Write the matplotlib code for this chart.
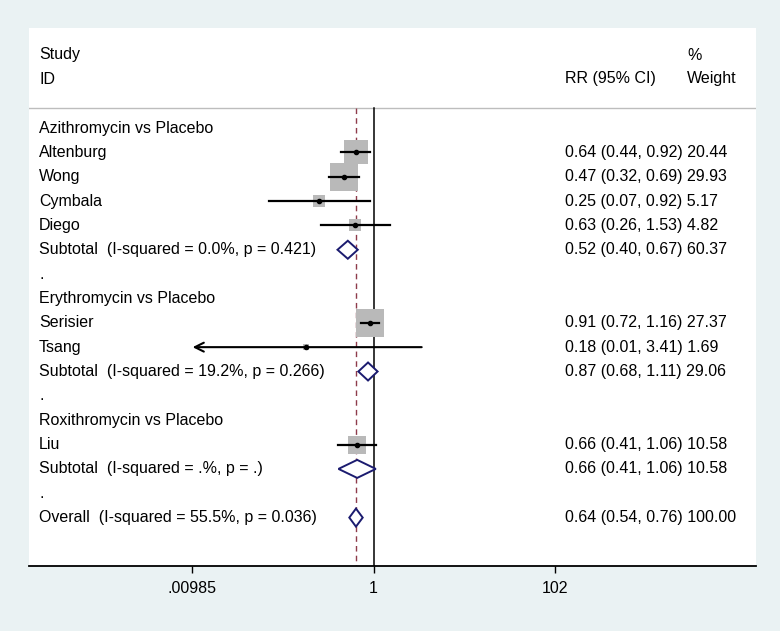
import matplotlib.pyplot as plt
from matplotlib.patches import Polygon
from matplotlib.transforms import blended_transform_factory

plt.rcParams['font.family'] = ['Liberation Sans', 'DejaVu Sans']

# wiersze tabeli (od góry), typ: group / study / subtotal / blank / overall
labels = [
    "Azithromycin vs Placebo",
    "Altenburg", "Wong", "Cymbala", "Diego",
    "Subtotal  (I-squared = 0.0%, p = 0.421)",
    ".",
    "Erythromycin vs Placebo",
    "Serisier", "Tsang",
    "Subtotal  (I-squared = 19.2%, p = 0.266)",
    ".",
    "Roxithromycin vs Placebo",
    "Liu",
    "Subtotal  (I-squared = .%, p = .)",
    ".",
    "Overall  (I-squared = 55.5%, p = 0.036)",
]
kinds = ["group", "study", "study", "study", "study", "subtotal", "blank",
         "group", "study", "study", "subtotal", "blank",
         "group", "study", "subtotal", "blank", "overall"]
rr = [None, 0.64, 0.47, 0.25, 0.63, 0.52, None,
      None, 0.91, 0.18, 0.87, None,
      None, 0.66, 0.66, None, 0.64]
lo = [None, 0.44, 0.32, 0.07, 0.26, 0.40, None,
      None, 0.72, 0.01, 0.68, None,
      None, 0.41, 0.41, None, 0.54]
hi = [None, 0.92, 0.69, 0.92, 1.53, 0.67, None,
      None, 1.16, 3.41, 1.11, None,
      None, 1.06, 1.06, None, 0.76]
weight = [None, 20.44, 29.93, 5.17, 4.82, 60.37, None,
          None, 27.37, 1.69, 29.06, None,
          None, 10.58, 10.58, None, 100.00]

xticks = [0.00985, 1, 102]
xtick_labels = [".00985", "1", "102"]

BG = "#eaf2f3"
FS = 11.5

fig = plt.figure(figsize=(7.8, 6.31), dpi=100, facecolor=BG)
ax = fig.add_axes([29 / 780, (631 - 565.5) / 631, 727 / 780, (565.5 - 28) / 631])
ax.set_facecolor("white")
ax.set_xscale("log")

ppd = 90.45  # piksele na dekadę
x1 = 373.5
ax.set_xlim(10 ** ((29 - x1) / ppd), 10 ** ((756 - x1) / ppd))
step = 24.35
ax.set_ylim((565.5 - 128) / step, (28 - 128) / step)

trans = blended_transform_factory(ax.transAxes, ax.transData)
y_sep = (108 - 128) / step

# nagłówek
ax.text(0.0138, (55 - 128) / step, "Study", transform=trans, fontsize=FS, va="center")
ax.text(0.0138, (79 - 128) / step, "ID", transform=trans, fontsize=FS, va="center")
ax.text(0.737, (79 - 128) / step, "RR (95% CI)", transform=trans, fontsize=FS, va="center")
ax.text(0.905, (55 - 128) / step, "%", transform=trans, fontsize=FS, va="center")
ax.text(0.905, (79 - 128) / step, "Weight", transform=trans, fontsize=FS, va="center")
ax.plot([0, 1], [y_sep, y_sep], transform=trans, color="#bdbdbd", lw=1.0)

overall = rr[-1]
ymax = (565.5 - 128) / step
ax.plot([1, 1], [y_sep, ymax], color="black", lw=1.1, zorder=2)
ax.plot([overall, overall], [y_sep, ymax], color="#8e3b4b", lw=1.0,
        dashes=(4, 3), zorder=2)

for i, (lab, k) in enumerate(zip(labels, kinds)):
    ax.text(0.0138, i, lab, transform=trans, fontsize=FS, va="center")
    if k in ("group", "blank"):
        continue
    ax.text(0.737, i, f"{rr[i]:.2f} ({lo[i]:.2f}, {hi[i]:.2f}) {weight[i]:.2f}",
            transform=trans, fontsize=FS, va="center")
    if k == "study":
        side = 5.3 * weight[i] ** 0.5 * 0.72
        ax.plot(rr[i], i, marker="s", markersize=side, color="#b9b9b9",
                markeredgewidth=0, zorder=3)
        if lo[i] <= 0.01:
            ax.annotate("", xy=(lo[i], i), xytext=(hi[i], i),
                        arrowprops=dict(arrowstyle="->", lw=1.5, color="black",
                                        shrinkA=0, shrinkB=0, mutation_scale=16),
                        zorder=4)
        else:
            ax.plot([lo[i], hi[i]], [i, i], color="black", lw=1.6, zorder=4)
        ax.plot(rr[i], i, marker="o", markersize=3.0, color="black", zorder=5)
    else:
        h = 0.37
        d = Polygon([(lo[i], i), (rr[i], i - h), (hi[i], i), (rr[i], i + h)],
                    closed=True, facecolor="white", edgecolor="#1b1b6f", lw=1.4,
                    zorder=4)
        ax.add_patch(d)

for s in ("top", "left", "right"):
    ax.spines[s].set_visible(False)
ax.spines["bottom"].set_linewidth(1.3)
ax.set_yticks([])
ax.set_xticks(xticks)
ax.set_xticklabels(xtick_labels, fontsize=FS)
ax.minorticks_off()
ax.tick_params(axis="x", length=5, width=1, pad=6, direction="out")

plt.savefig("out.png", dpi=100, facecolor=BG)
